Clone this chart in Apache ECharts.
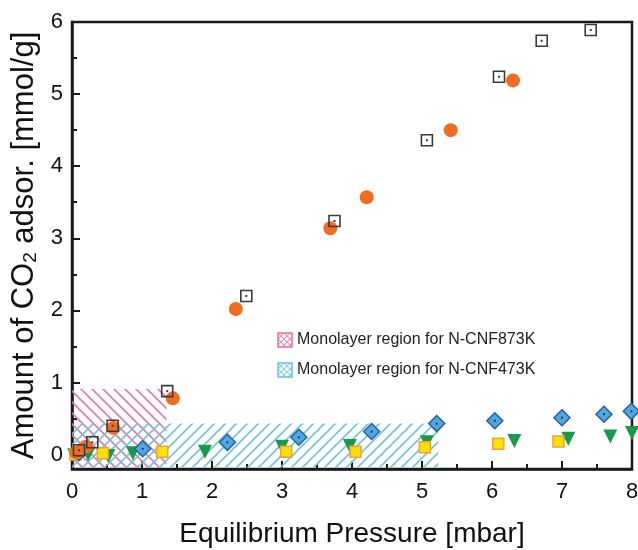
<!DOCTYPE html>
<html><head><meta charset="utf-8">
<script src="https://cdn.jsdelivr.net/npm/echarts@6/dist/echarts.min.js"></script>
<style>html,body{margin:0;padding:0;background:#fff}#c{width:638px;height:550px}</style>
</head><body><div id="c"></div>
<script>
// ---- data ----
const xTicks = [0,1,2,3,4,5,6,7,8];
const yTicks = [0,1,2,3,4,5,6];
const yMinorTicks = [0.5,1.5,2.5,3.5,4.5,5.5];
const legendNames = ['Monolayer region for N-CNF873K','Monolayer region for N-CNF473K'];
const region873 = [[0,-0.18],[1.35,0.91]];
const region473 = [[0,-0.18],[5.23,0.43]];
const openSquares = [[0.1,0.06],[0.29,0.17],[0.58,0.4],[1.36,0.88],[2.49,2.2],[3.75,3.24],[5.07,4.36],[6.1,5.24],[6.71,5.74],[7.41,5.89]];
const orangeCircles = [[0.06,0.03],[0.2,0.11],[0.59,0.37],[1.44,0.78],[2.34,2.02],[3.69,3.14],[4.21,3.57],[5.41,4.5],[6.3,5.19]];
const blueDiamonds = [[0.1,0.03],[1.01,0.08],[2.22,0.17],[3.24,0.24],[4.28,0.32],[5.21,0.43],[6.04,0.47],[7.0,0.51],[7.6,0.56],[7.99,0.6]];
const yellowSquares = [[0.05,0.0],[0.44,0.02],[1.29,0.04],[3.06,0.04],[4.05,0.04],[5.04,0.1],[6.09,0.15],[6.95,0.18]];
const greenTriangles = [[0.03,-0.01],[0.23,0.0],[0.52,-0.02],[0.87,0.02],[1.9,0.04],[3.0,0.11],[3.97,0.12],[5.07,0.17],[6.32,0.19],[7.09,0.22],[7.69,0.25],[8.0,0.3]];

// ---- patterns ----
function hatch(color, dir, p, lw){
  const c = document.createElement('canvas'); c.width = p; c.height = p;
  const g = c.getContext('2d'); g.strokeStyle = color; g.lineWidth = lw;
  const seg = (a,b,cx,d)=>{g.beginPath();g.moveTo(a,b);g.lineTo(cx,d);g.stroke();};
  if (dir === '/' || dir === 'x'){ seg(-1,p+1,p+1,-1); seg(-1,1,1,-1); seg(p-1,p+1,p+1,p-1); }
  if (dir === '\\' || dir === 'x'){ seg(-1,-1,p+1,p+1); seg(p-1,-1,p+1,1); seg(-1,p-1,1,p+1); }
  return {image: c, repeat: 'repeat'};
}
const pink = '#e07aa8', blue = '#70c4dc';

const chart = echarts.init(document.getElementById('c'), null, {renderer:'canvas'});
const axisCol = '#1a1a1a';
const font = 'Liberation Sans, Arial, sans-serif';
chart.setOption({
  animation: false,
  grid: {left: 72, right: 6, top: 22, bottom: 81, containLabel: false, outerBoundsMode: 'none',
    show: true, borderColor: axisCol, borderWidth: 2.5, backgroundColor: 'transparent'},
  legend: {
    data: legendNames, orient: 'vertical', left: 272, top: 327, itemWidth: 14, itemHeight: 14, itemGap: 14,
    textStyle: {fontFamily: font, fontSize: 16, color: '#222'}, icon: 'rect', selectedMode: false
  },
  xAxis: [{
    type: 'value', min: 0, max: 8, interval: 1,
    name: 'Equilibrium Pressure [mbar]', nameLocation: 'middle', nameGap: 51,
    nameTextStyle: {fontFamily: font, fontSize: 28, color: '#111'},
    axisLine: {show: true, onZero: false, lineStyle: {color: axisCol, width: 2.5}},
    axisTick: {show: true, inside: true, length: 8, lineStyle: {color: axisCol, width: 2}},
    minorTick: {show: true, splitNumber: 2, length: 5, lineStyle: {color: axisCol, width: 2}},
    axisLabel: {fontFamily: font, fontSize: 22, color: '#111', margin: 12, customValues: xTicks},
    splitLine: {show: false}
  }],
  yAxis: [{
    type: 'value', min: -0.2, max: 6,
    name: 'Amount of CO{sub|2} adsor. [mmol/g]', nameLocation: 'middle', nameGap: 25,
    nameTextStyle: {fontFamily: font, fontSize: 31, color: '#111',
      rich: {sub: {fontFamily: font, fontSize: 19, color: '#111', verticalAlign: 'bottom'}}},
    axisLine: {show: true, onZero: false, lineStyle: {color: axisCol, width: 2.5}},
    axisTick: {show: true, inside: true, length: 8, customValues: yTicks, lineStyle: {color: axisCol, width: 2}},
    axisLabel: {fontFamily: font, fontSize: 22, color: '#111', margin: 9, customValues: yTicks},
    splitLine: {show: false}
  }, {
    type: 'value', min: -0.2, max: 6, position: 'left', offset: 0,
    axisLine: {show: false},
    axisTick: {show: true, inside: true, length: 5, customValues: yMinorTicks, lineStyle: {color: axisCol, width: 2}},
    axisLabel: {show: false, customValues: yMinorTicks},
    splitLine: {show: false}
  }],
  series: [
    {name: legendNames[0], type: 'scatter', data: [], itemStyle: {color: hatch(pink,'x',6,1.2), borderColor: pink, borderWidth: 1.2},
      markArea: {silent: true, itemStyle: {color: hatch(pink,'\\',11,1.6)}, data: [[{coord: region873[0]},{coord: region873[1]}]]}},
    {name: legendNames[1], type: 'scatter', data: [], itemStyle: {color: hatch(blue,'x',6,1.2), borderColor: blue, borderWidth: 1.2},
      markArea: {silent: true, itemStyle: {color: hatch(blue,'/',11,1.6)}, data: [[{coord: region473[0]},{coord: region473[1]}]]}},
    {name: 'triangles', type: 'scatter', data: greenTriangles, symbol: 'triangle', symbolRotate: 180, symbolSize: 14, clip: true,
      itemStyle: {color: '#179a4c', opacity: 1}},
    {name: 'yellow', type: 'scatter', data: yellowSquares, symbol: 'rect', symbolSize: 11, clip: true,
      itemStyle: {color: '#f9e200', borderColor: '#f0a040', borderWidth: 1.5, opacity: 1}},
    {name: 'diamonds', type: 'scatter', data: blueDiamonds, symbol: 'diamond', symbolSize: [16,16], clip: true,
      itemStyle: {color: '#4ca9df', borderColor: '#2d5d9c', borderWidth: 1.5, opacity: 1}},
    {name: 'diamondDots', type: 'scatter', data: blueDiamonds, symbol: 'rect', symbolSize: 2, clip: true,
      itemStyle: {color: '#1d3d70', opacity: 1}},
    {name: 'circles', type: 'scatter', data: orangeCircles, symbol: 'circle', symbolSize: 14, clip: true,
      itemStyle: {color: '#f06c22', opacity: 1}},
    {name: 'squares', type: 'scatter', data: openSquares, symbol: 'rect', symbolSize: 11, clip: true,
      itemStyle: {color: 'rgba(255,255,255,0)', borderColor: '#3a3a3a', borderWidth: 1.6, opacity: 1}},
    {name: 'squareDots', type: 'scatter', data: openSquares, symbol: 'rect', symbolSize: 2, clip: true,
      itemStyle: {color: '#3a3a3a', opacity: 1}}
  ]
});
</script></body></html>
